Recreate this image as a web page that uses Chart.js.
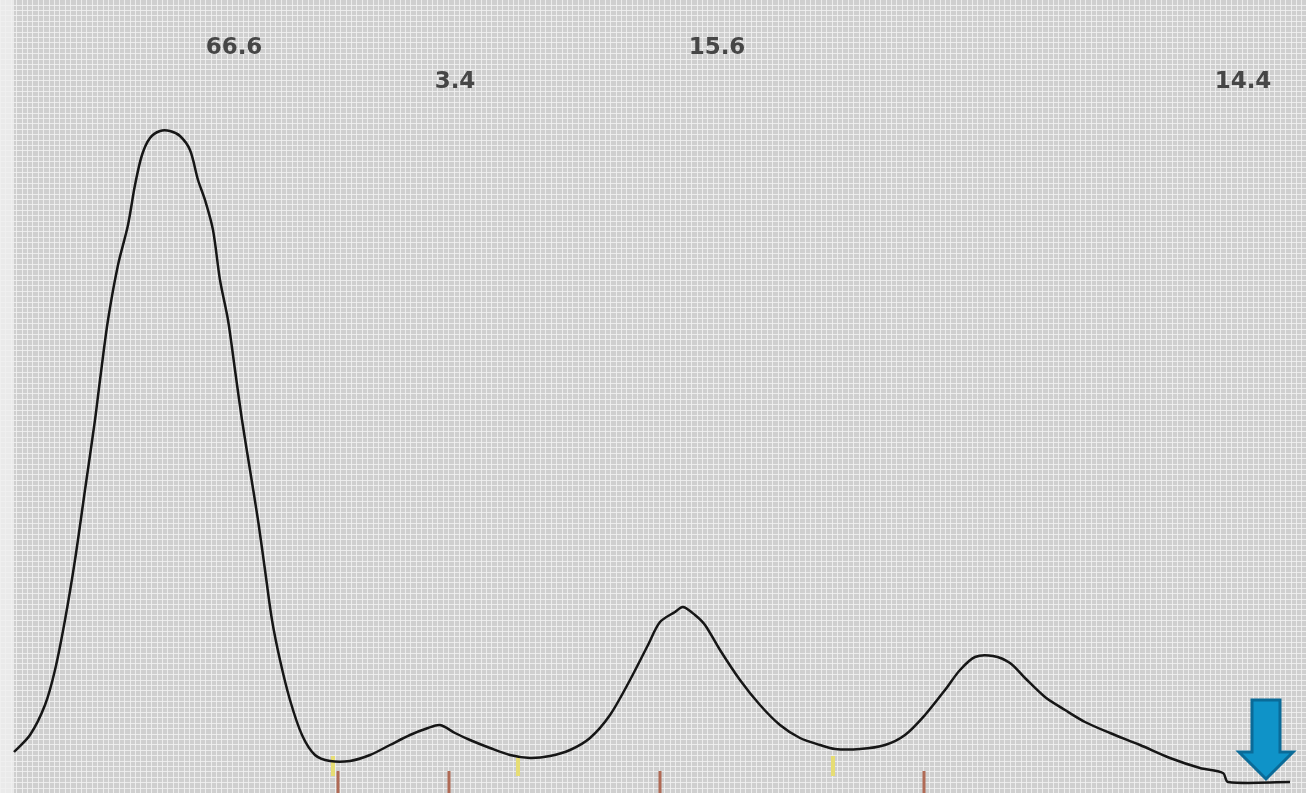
<!DOCTYPE html>
<html>
<head>
<meta charset="utf-8">
<script src="https://cdn.jsdelivr.net/npm/chart.js@4.4.1/dist/chart.umd.min.js"></script>
<style>
html,body{margin:0;padding:0;background:#d2d2d2;overflow:hidden;}
#wrap{position:relative;width:1306px;height:793px;}
</style>
</head>
<body>
<div id="wrap"><canvas id="c" width="1306" height="793"></canvas></div>
<script>
// Densitometry trace: migration position (0..1306) vs. absorbance (0..793)
const traceX = [14,30,45,55,65,75,85,95,100,108,118,128,135,142,150,160,170,180,190,198,205,213,220,228,235,242,250,258,265,272,280,290,302,315,330,350,370,390,410,428,440,455,470,490,510,530,550,570,590,610,630,648,660,675,683,695,705,720,740,760,780,800,820,835,860,885,905,925,945,960,975,993,1010,1025,1045,1065,1085,1110,1140,1170,1200,1223,1228,1290];
const traceY = [41,58,88,123,173,233,303,373,413,473,528,568,608,638,655,662,662,657,643,613,593,563,513,473,423,373,323,273,223,173,133,93,58,38,32,32,38,48,58,65,68,60,53,45,38,35,37,43,55,78,113,148,171,181,186,178,168,143,113,88,68,55,48,44,44,48,58,78,103,123,136,137,130,115,96,83,71,60,48,35,25,20,11,11];
// Fraction percentages printed above the peaks
const fractionLabels = ["66.6","3.4","15.6","14.4"];
const fractionX = [234,455,717,1243];
const fractionRow = [0,1,0,1];
// Fraction boundary marks under the trace
const boundaryX = [338,449,660,924];
const startMarkX = [333,518,833];
const gridStep = 5.4;

const paperPlugin = {
  id:'paper',
  beforeDatasetsDraw(chart){
    const {ctx,width,height}=chart;
    const xs=chart.scales.x, ys=chart.scales.y;
    ctx.save();
    ctx.fillStyle='#cfcfcf';
    ctx.fillRect(0,0,width,height);
    ctx.strokeStyle='rgba(242,242,242,0.8)';
    ctx.lineWidth=1;
    ctx.beginPath();
    for(let v=xs.min; v<=xs.max; v+=gridStep){
      const p=Math.round(xs.getPixelForValue(v))+0.5;
      ctx.moveTo(p,0); ctx.lineTo(p,height);
    }
    for(let v=ys.min; v<=ys.max; v+=gridStep){
      const p=Math.round(ys.getPixelForValue(v))+0.5;
      ctx.moveTo(0,p); ctx.lineTo(width,p);
    }
    ctx.stroke();
    ctx.fillStyle='rgba(240,240,240,0.8)';
    ctx.fillRect(0,0,14,height);
    ctx.restore();
  },
  afterDatasetsDraw(chart){
    const {ctx}=chart;
    const xs=chart.scales.x, ys=chart.scales.y;
    ctx.save();
    ctx.font='bold 23px "DejaVu Sans", sans-serif';
    ctx.fillStyle='#464646';
    ctx.textAlign='center';
    ctx.textBaseline='middle';
    fractionLabels.forEach((t,i)=>{
      const y = fractionRow[i]===0 ? 48 : 82;
      ctx.fillText(t, xs.getPixelForValue(fractionX[i]), y);
    });
    // arrow pointing at end of trace
    const lx = xs.getPixelForValue(traceX[traceX.length-1]-24);
    const ly = ys.getPixelForValue(traceY[traceY.length-1]);
    ctx.beginPath();
    ctx.moveTo(lx-14,700);
    ctx.lineTo(lx+14,700);
    ctx.lineTo(lx+14,752);
    ctx.lineTo(lx+27,752);
    ctx.lineTo(lx,ly-3);
    ctx.lineTo(lx-27,752);
    ctx.lineTo(lx-14,752);
    ctx.closePath();
    ctx.fillStyle='#0f93c8';
    ctx.fill();
    ctx.lineWidth=3;
    ctx.lineJoin='miter';
    ctx.strokeStyle='#0a6b98';
    ctx.stroke();
    ctx.restore();
  }
};

new Chart(document.getElementById('c'),{
  type:'scatter',
  data:{
    datasets:[
      {
        type:'line',
        data:traceX.map((x,i)=>({x,y:traceY[i]})),
        borderColor:'#161616',
        borderWidth:2.5,
        pointRadius:0,
        tension:0.3,
        fill:false,
        order:0
      },
      {
        data:boundaryX.map(x=>({x,y:10})),
        pointStyle:'line',
        rotation:90,
        radius:12,
        borderColor:'#b06a55',
        borderWidth:3,
        order:1
      },
      {
        data:startMarkX.map(x=>({x,y:27})),
        pointStyle:'line',
        rotation:90,
        radius:10,
        borderColor:'#e6dd74',
        borderWidth:4,
        order:1
      }
    ]
  },
  options:{
    responsive:false,
    animation:false,
    events:[],
    layout:{padding:0,autoPadding:false},
    plugins:{legend:{display:false},tooltip:{enabled:false}},
    scales:{
      x:{type:'linear',min:0,max:1306,display:false},
      y:{type:'linear',min:0,max:793,display:false}
    }
  },
  plugins:[paperPlugin]
});
</script>
</body>
</html>
